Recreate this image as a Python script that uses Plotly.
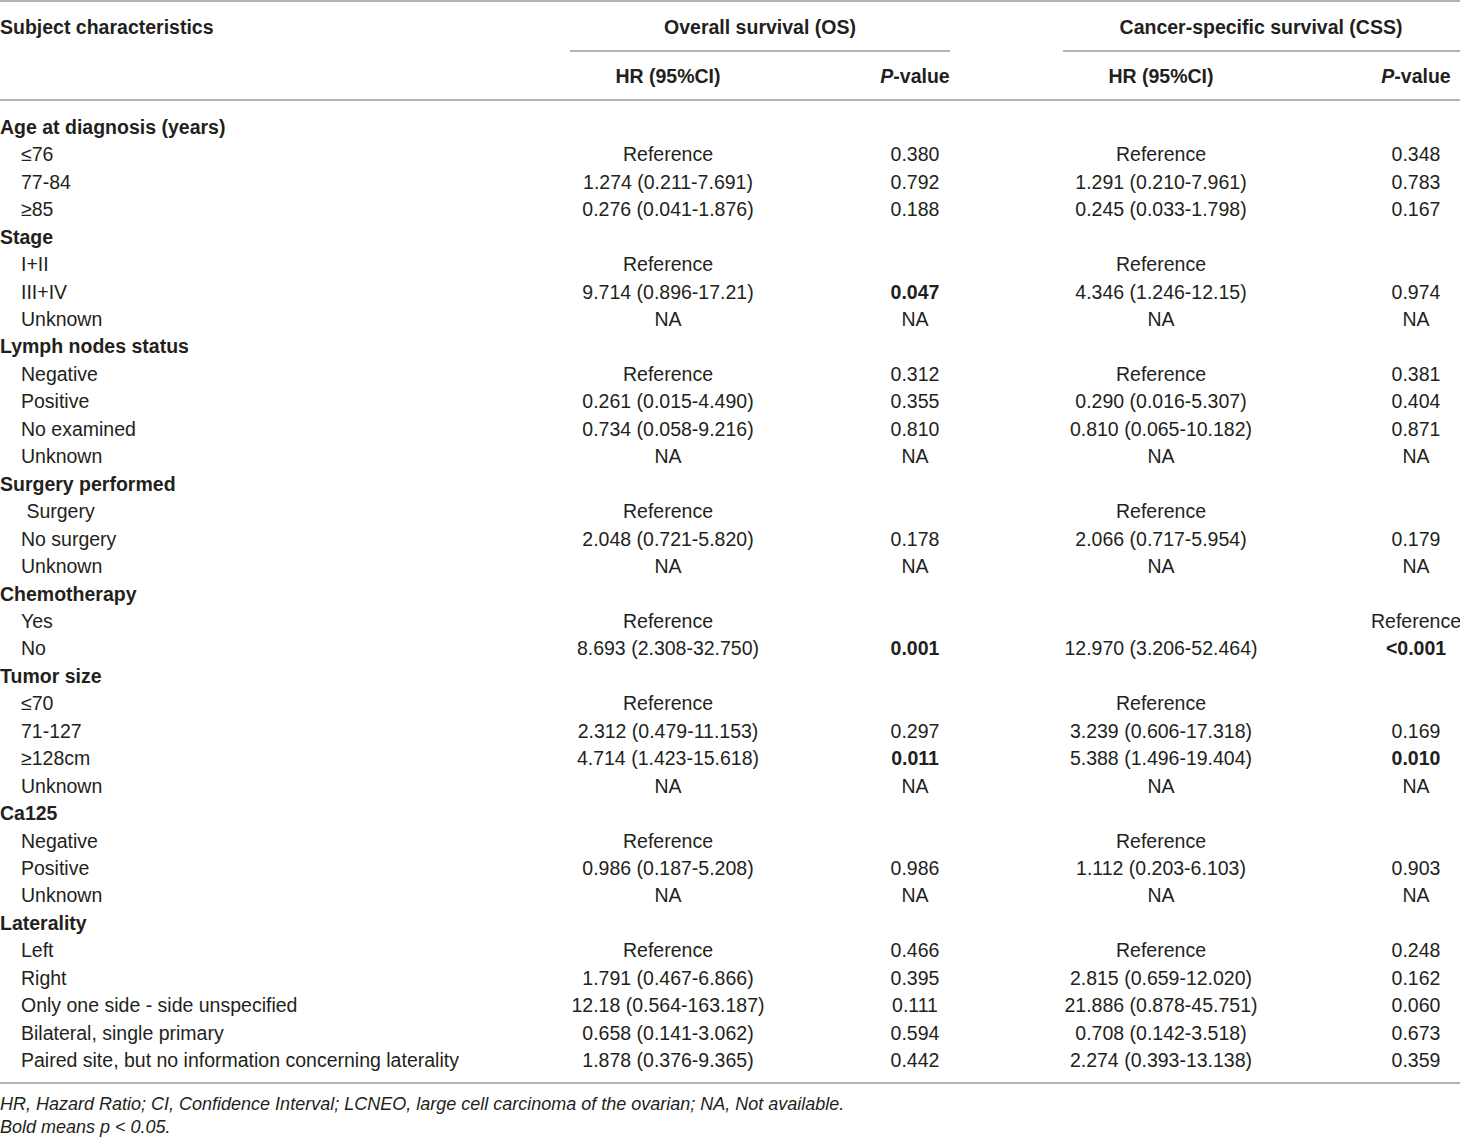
import plotly.graph_objects as go

# table content
labels = ["Age at diagnosis (years)", "≤76", "77-84", "≥85",
          "Stage", "I+II", "III+IV", "Unknown",
          "Lymph nodes status", "Negative", "Positive", "No examined", "Unknown",
          "Surgery performed", " Surgery", "No surgery", "Unknown",
          "Chemotherapy", "Yes", "No",
          "Tumor size", "≤70", "71-127", "≥128cm", "Unknown",
          "Ca125", "Negative", "Positive", "Unknown",
          "Laterality", "Left", "Right", "Only one side - side unspecified",
          "Bilateral, single primary", "Paired site, but no information concerning laterality"]
group_rows = ["Age at diagnosis (years)", "Stage", "Lymph nodes status", "Surgery performed",
              "Chemotherapy", "Tumor size", "Ca125", "Laterality"]

os_hr = ["", "Reference", "1.274 (0.211-7.691)", "0.276 (0.041-1.876)",
         "", "Reference", "9.714 (0.896-17.21)", "NA",
         "", "Reference", "0.261 (0.015-4.490)", "0.734 (0.058-9.216)", "NA",
         "", "Reference", "2.048 (0.721-5.820)", "NA",
         "", "Reference", "8.693 (2.308-32.750)",
         "", "Reference", "2.312 (0.479-11.153)", "4.714 (1.423-15.618)", "NA",
         "", "Reference", "0.986 (0.187-5.208)", "NA",
         "", "Reference", "1.791 (0.467-6.866)", "12.18 (0.564-163.187)",
         "0.658 (0.141-3.062)", "1.878 (0.376-9.365)"]
os_p = ["", "0.380", "0.792", "0.188",
        "", "", "0.047", "NA",
        "", "0.312", "0.355", "0.810", "NA",
        "", "", "0.178", "NA",
        "", "", "0.001",
        "", "", "0.297", "0.011", "NA",
        "", "", "0.986", "NA",
        "", "0.466", "0.395", "0.111", "0.594", "0.442"]
css_hr = ["", "Reference", "1.291 (0.210-7.961)", "0.245 (0.033-1.798)",
          "", "Reference", "4.346 (1.246-12.15)", "NA",
          "", "Reference", "0.290 (0.016-5.307)", "0.810 (0.065-10.182)", "NA",
          "", "Reference", "2.066 (0.717-5.954)", "NA",
          "", "", "12.970 (3.206-52.464)",
          "", "Reference", "3.239 (0.606-17.318)", "5.388 (1.496-19.404)", "NA",
          "", "Reference", "1.112 (0.203-6.103)", "NA",
          "", "Reference", "2.815 (0.659-12.020)", "21.886 (0.878-45.751)",
          "0.708 (0.142-3.518)", "2.274 (0.393-13.138)"]
css_p = ["", "0.348", "0.783", "0.167",
         "", "", "0.974", "NA",
         "", "0.381", "0.404", "0.871", "NA",
         "", "", "0.179", "NA",
         "", "Reference", "<0.001",
         "", "", "0.169", "0.010", "NA",
         "", "", "0.903", "NA",
         "", "0.248", "0.162", "0.060", "0.673", "0.359"]

footnotes = ["HR, Hazard Ratio; CI, Confidence Interval; LCNEO, large cell carcinoma of the ovarian; NA, Not available.",
             "Bold means p < 0.05."]

# layout
W, H = 1460, 1140
FONT = "Liberation Sans, Arial, sans-serif"
TXT = "#231f20"
LINE = "#9a9a9a"
FS = 19.5
ROW0, STEP = 129, 27.45
X_LABEL, X_INDENT = 0, 21
X_OS_HR, X_OS_P = 668, 915
X_CSS_HR, X_CSS_P = 1161, 1416


def sig(p):
    if p.startswith("<"):
        return True
    try:
        return float(p) < 0.05
    except ValueError:
        return False


def bold_if(s, flag):
    return "<b>" + s + "</b>" if flag and s else s


row_y = [ROW0 + i * STEP for i in range(len(labels))]

label_txt = []
label_x = []
for lab in labels:
    if lab in group_rows:
        label_txt.append("<b>" + lab + "</b>")
        label_x.append(X_LABEL)
    else:
        n = len(lab) - len(lab.lstrip(" "))
        label_txt.append("\u00a0" * n + lab.lstrip(" "))
        label_x.append(X_INDENT)

fig = go.Figure()


def add_text(x, y, text, pos, size=FS):
    fig.add_trace(go.Scatter(x=x, y=y, text=text, mode="text", textposition=pos,
                             marker=dict(size=0), cliponaxis=False, hoverinfo="skip",
                             textfont=dict(family=FONT, size=size, color=TXT),
                             showlegend=False))


add_text(label_x, row_y, label_txt, "middle right")
add_text([X_OS_HR] * len(os_hr), row_y, os_hr, "middle center")
add_text([X_OS_P] * len(os_p), row_y, [bold_if(p, sig(p)) for p in os_p], "middle center")
add_text([X_CSS_HR] * len(css_hr), row_y, css_hr, "middle center")
add_text([X_CSS_P] * len(css_p), row_y, [bold_if(p, sig(p)) for p in css_p], "middle center")

# headers
add_text([X_LABEL], [29], ["<b>Subject characteristics</b>"], "middle right")
add_text([760, 1261], [29, 29], ["<b>Overall survival (OS)</b>", "<b>Cancer-specific survival (CSS)</b>"],
         "middle center")
add_text([X_OS_HR, X_OS_P, X_CSS_HR, X_CSS_P], [78] * 4,
         ["<b>HR (95%CI)</b>", "<b><i>P</i>-value</b>", "<b>HR (95%CI)</b>", "<b><i>P</i>-value</b>"],
         "middle center")

# footnotes
add_text([X_LABEL, X_LABEL], [1105, 1128], ["<i>" + f + "</i>" for f in footnotes], "middle right", size=18)

rules = [(0, W, 1), (570, 950, 51), (1063, W, 51), (0, W, 100), (0, W, 1083)]
for x0, x1, y in rules:
    fig.add_shape(type="line", xref="x", yref="y", x0=x0, x1=x1, y0=y, y1=y,
                  line=dict(color=LINE, width=1.5))

fig.update_layout(width=W, height=H, margin=dict(l=0, r=0, t=0, b=0),
                  paper_bgcolor="white", plot_bgcolor="white")
fig.update_xaxes(range=[0, W], visible=False, fixedrange=True)
fig.update_yaxes(range=[H, 0], visible=False, fixedrange=True)

fig.write_html("out.html", config={"displayModeBar": False},
               post_script="document.body.style.margin='0';")
